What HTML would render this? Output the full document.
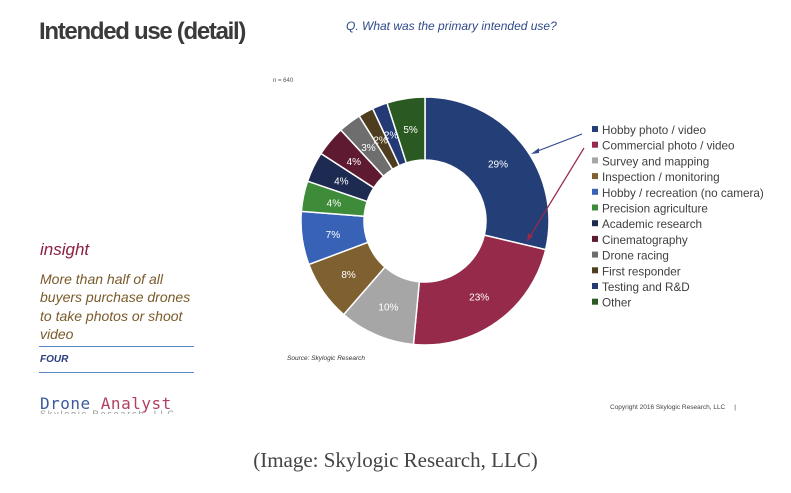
<!DOCTYPE html>
<html><head><meta charset="utf-8"><style>
body{margin:0;width:791px;height:493px;background:#fff;position:relative;overflow:hidden;font-family:"Liberation Sans",sans-serif}
.a{position:absolute;white-space:nowrap}
</style></head><body>
<div class="a" style="left:39px;top:18px;font-size:24px;font-weight:bold;color:#3a3a3a;letter-spacing:-1.3px">Intended use (detail)</div>
<div class="a" style="left:346px;top:19px;font-size:12px;font-style:italic;color:#2F4A8A">Q. What was the primary intended use?</div>
<div class="a" style="left:273px;top:78px;font-size:6px;color:#555">n = 640</div>
<div class="a" style="left:40px;top:240px;font-size:17px;font-style:italic;color:#8B2040">insight</div>
<div class="a" style="left:40px;top:270px;font-size:14px;font-style:italic;color:#7A5A2A;line-height:18.3px;white-space:normal;width:160px">More than half of all buyers purchase drones to take photos or shoot video</div>
<div class="a" style="left:39px;top:346px;width:155px;height:1px;background:#5A88C8"></div>
<div class="a" style="left:40px;top:354px;font-size:10px;font-weight:bold;font-style:italic;color:#2A3F7A">FOUR</div>
<div class="a" style="left:39px;top:372px;width:155px;height:1px;background:#5A88C8"></div>
<div class="a" style="left:40px;top:394px;font-size:16px;font-family:'DejaVu Sans Mono',monospace;color:#3A5A9A;letter-spacing:0.5px">Drone <span style="color:#B0405F">Analyst</span></div>
<div class="a" style="left:40px;top:409px;height:5px;overflow:hidden;font-size:9px;color:#999;letter-spacing:1.8px">Skylogic Research, LLC</div>
<div class="a" style="left:287px;top:355px;font-size:6.5px;font-style:italic;color:#333">Source: Skylogic Research</div>
<div class="a" style="left:610px;top:404px;font-size:6.5px;color:#444">Copyright 2016 Skylogic Research, LLC &nbsp; &nbsp; |</div>
<div class="a" style="left:0;width:791px;top:448px;text-align:center;font-family:'Liberation Serif',serif;font-size:21px;color:#444">(Image: Skylogic Research, LLC)</div>
<svg id="s" class="a" style="left:0;top:0" width="791" height="493"></svg>
<script>
var d=[[29,'#243F77'],[23,'#952A4A'],[10,'#A6A6A6'],[8,'#7F6030'],[7,'#3762B5'],[4,'#3E8C3A'],[4,'#1D2B52'],[4,'#5E1A30'],[3,'#6E6E6E'],[2,'#4F3D1F'],[2,'#233A75'],[5,'#2A5A22']];
var names=['Hobby photo / video','Commercial photo / video','Survey and mapping','Inspection / monitoring','Hobby / recreation (no camera)','Precision agriculture','Academic research','Cinematography','Drone racing','First responder','Testing and R&D','Other'];
var cx=425,cy=221,R=124,r=61,s='',a=0,t=101;
function p(ang,rad){return [cx+rad*Math.sin(ang),cy-rad*Math.cos(ang)];}
d.forEach(function(e,i){var a0=a/t*2*Math.PI;a+=e[0];var a1=a/t*2*Math.PI;var L=(a1-a0)>Math.PI?1:0;
var A=p(a0,R),B=p(a1,R),C=p(a1,r),D=p(a0,r);
s+='<path d="M'+A+'A'+R+','+R+' 0 '+L+' 1 '+B+'L'+C+'A'+r+','+r+' 0 '+L+' 0 '+D+'Z" fill="'+e[1]+'" stroke="#fff" stroke-width="1.5"/>';
var m=p((a0+a1)/2,93);
s+='<text x="'+m[0]+'" y="'+(m[1]+4)+'" text-anchor="middle" font-size="10" fill="#fff" font-family="Liberation Sans">'+e[0]+'%</text>';
s+='<rect x="592" y="'+(126+i*15.7)+'" width="6" height="6" fill="'+e[1]+'"/>';
s+='<text x="602" y="'+(134+i*15.7)+'" font-size="11.7" fill="#404040" font-family="Liberation Sans">'+names[i].replace('&','&amp;')+'</text>';});
s+='<line x1="582" y1="134" x2="535" y2="152" stroke="#2F4A8A" stroke-width="1.2"/><path d="M531,154 l8,-6 l0,5z" fill="#2F4A8A"/>';
s+='<line x1="584" y1="148" x2="529" y2="238" stroke="#952A4A" stroke-width="1.2"/><path d="M527,242 l1,-9 l5,3z" fill="#952A4A"/>';
document.getElementById('s').innerHTML=s;
</script>
</body></html>
